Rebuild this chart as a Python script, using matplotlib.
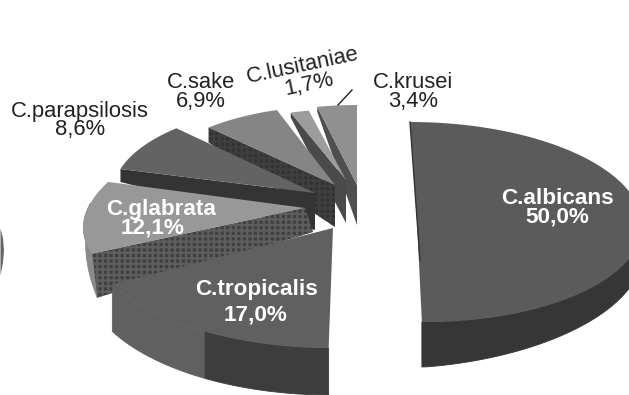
import numpy as np
import matplotlib
matplotlib.use('Agg')
import matplotlib.pyplot as plt
from matplotlib.patches import Polygon

plt.rcParams['font.family'] = ['Liberation Sans', 'DejaVu Sans']
plt.rcParams['hatch.linewidth'] = 1.6

# going clockwise from the top of the pie
species = ['C.albicans', 'C.tropicalis', 'C.glabrata', 'C.parapsilosis', 'C.sake', 'C.lusitaniae', 'C.krusei']
shares = [50.0, 17.0, 12.1, 8.6, 6.9, 1.7, 3.4]

# exploded 3d layout for each slice, in pixels
apex_x = [417, 333, 305, 315, 335, 346, 357]
apex_y = [222, 228, 208, 193, 185, 180, 185]
radius_x = [225, 249, 217, 202, 184, 175, 187]
radius_y = [100, 120, 97, 89, 79, 71, 80]
skew = [-7, 2, 45, 0, 0, 0, 0]
rim_depth = [45, 47, 44, 13, 15, 5, 5]
apex_depth = [0, 0, 24, 37, 42, 43, 40]

top_colors = ['#5b5b5b', '#606060', '#989898', '#636363', '#858585', '#9c9c9c', '#909090']
cut_colors = ['#333333', '#3c3c3c', '#404040', '#343434', '#333333', '#4a4a4a', '#4f4f4f']
rim_colors = ['#363636', '#3d3d3d', '#8a8a8a', '#343434', '#333333', '#4a4a4a', '#4f4f4f']
cut_hatch = [None, None, '+++', None, '+++', None, None]
hatch_colors = {2: '#5e5e5e', 4: '#3f3f3f'}
text_dark = '#222222'

fig = plt.figure(figsize=(6.29, 3.95), dpi=100)
ax = fig.add_axes([0, 0, 1, 1])
ax.set_xlim(0, 629)
ax.set_ylim(395, 0)
ax.axis('off')


def rim_point(i, t):
    x = apex_x[i] + radius_x[i] * np.cos(t) + skew[i] * np.sin(t)
    y = apex_y[i] - radius_y[i] * np.sin(t)
    return x, y


def add_wall(wx, wy, depth, color, z, shift=0):
    outline = np.r_[np.c_[wx, wy], np.c_[wx + shift, wy + depth][::-1]]
    ax.add_patch(Polygon(outline, facecolor=color, edgecolor=color, linewidth=0.6, zorder=z))


# slice start and end angles
fractions = np.array(shares) / sum(shares)
ends = np.pi / 2 - 2 * np.pi * np.cumsum(fractions)
starts = np.concatenate([[np.pi / 2], ends[:-1]])

# krusei is the furthest back, albicans the nearest
for i in range(6, -1, -1):
    z = 10 + (6 - i)
    ts = np.linspace(ends[i], starts[i], 120)
    xs, ys = rim_point(i, ts)

    # outer wall, only where the rim faces the viewer
    front = np.sin(ts) < 0.05
    if front.any():
        wx, wy = xs[front], ys[front]
        if i == 1:
            # the left end of the tropicalis wall blends into the top
            add_wall(wx[wx < 206], wy[wx < 206], rim_depth[i], top_colors[i], z)
            add_wall(wx[wx >= 205], wy[wx >= 205], rim_depth[i], rim_colors[i], z)
        elif i == 0:
            # wall gets thinner towards the right border
            depth = np.interp(wx, [425, 629], [45, 30])
            add_wall(wx, wy, depth, rim_colors[i], z)
        elif i == 2:
            # glabrata wall opens up from nothing at the left bulge
            frac = np.linspace(0, 1, len(wx))
            add_wall(wx, wy, rim_depth[i] * frac, rim_colors[i], z, shift=5 * frac)
        else:
            add_wall(wx, wy, rim_depth[i], rim_colors[i], z)

    # cut face below the straight edge at the start of the slice
    if i >= 2:
        cx, cy = rim_point(i, starts[i])
        shift_apex = 8 if i == 2 else 0
        shift_rim = 5 if i == 2 else 0
        cut = [(cx, cy), (apex_x[i], apex_y[i]),
               (apex_x[i] + shift_apex, apex_y[i] + apex_depth[i]),
               (cx + shift_rim, cy + rim_depth[i])]
        ax.add_patch(Polygon(cut, facecolor=cut_colors[i], edgecolor=hatch_colors.get(i, 'none'),
                             hatch=cut_hatch[i], linewidth=0, zorder=z))

    top = np.r_[[(apex_x[i], apex_y[i])], np.c_[xs, ys]]
    ax.add_patch(Polygon(top, facecolor=top_colors[i], edgecolor='none', zorder=z + 0.5))

# thin dark edge down the flat side of albicans
edge_x, edge_y = rim_point(0, starts[0])
ax.plot([edge_x, apex_x[0] + 3], [edge_y, apex_y[0] + 38], color='#333333', linewidth=1, zorder=17)

# piece of another ring showing at the left border
arc_y = np.array([228, 238, 250, 262, 275])
arc_x = np.array([0, 2.5, 3.5, 2.5, 0])
ax.fill_betweenx(arc_y, 0, arc_x, color='#666666', linewidth=0, zorder=5)

# leader line of the krusei label
ax.plot([338, 352], [105, 90], color=text_dark, linewidth=1, zorder=20)

percent = [f"{v:.1f}".replace('.', ',') + '%' for v in shares]

# outside labels
outside = {3: (80, 111, 80, 130), 4: (201, 83, 201, 102), 6: (413, 82, 413, 101)}
for i, (x1, y1, x2, y2) in outside.items():
    ax.text(x1, y1, species[i], ha='center', va='center', fontsize=15.8, color=text_dark, zorder=30)
    ax.text(x2, y2, percent[i], ha='center', va='center', fontsize=15.8, color=text_dark, zorder=30)
ax.text(303, 66, species[5], ha='center', va='center', fontsize=15.8, color=text_dark, rotation=12, zorder=30)
ax.text(309, 84, percent[5], ha='center', va='center', fontsize=15.8, color=text_dark, rotation=12, zorder=30)

# inside labels
inside = {0: (557, 198, 557, 217), 1: (256, 290, 256, 315), 2: (161, 209, 153, 228)}
for i, (x1, y1, x2, y2) in inside.items():
    ax.text(x1, y1, species[i], ha='center', va='center', fontsize=16.2, fontweight='bold', color='white', zorder=30)
    ax.text(x2, y2, percent[i], ha='center', va='center', fontsize=16.2, fontweight='bold', color='white', zorder=30)

fig.savefig('out.png', dpi=100, facecolor='white')
plt.close(fig)
